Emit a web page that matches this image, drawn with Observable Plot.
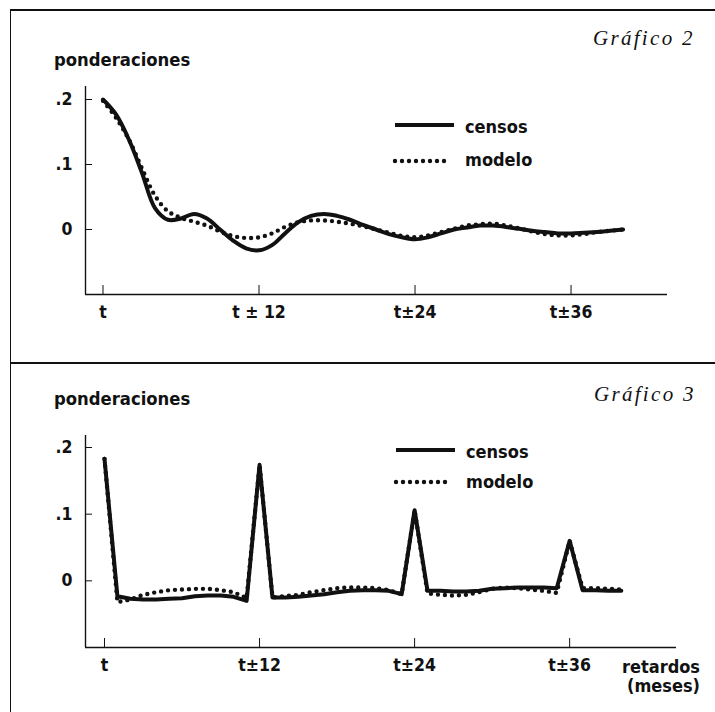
<!DOCTYPE html>
<html><head><meta charset="utf-8">
<script src="https://cdn.jsdelivr.net/npm/d3@7"></script>
<script src="https://cdn.jsdelivr.net/npm/@observablehq/plot@0.6"></script>
<style>
body{margin:0;background:#fff;}
#page{position:relative;width:715px;height:712px;overflow:hidden;background:#fff;color:#111;}
.abs{position:absolute;white-space:nowrap;}
.sans{font-family:"DejaVu Sans Condensed","DejaVu Sans",sans-serif;font-stretch:condensed;font-weight:bold;}
.serif{font-family:"Liberation Serif","Times New Roman",serif;font-style:italic;letter-spacing:2.3px;}
.hline{position:absolute;height:0;border-top:2px solid #111;}
.vline{position:absolute;width:0;border-left:1.5px solid #111;}
</style></head><body><div id="page"></div>
<script>
// ---------- data ----------
const lags = [0,1,2,3,4,5,6,7,8,9,10,11,12,13,14,15,16,17,18,19,20,21,22,23,24,25,26,27,28,29,30,31,32,33,34,35,36,37,38,39,40];

// Gráfico 2
const censos2 = [0.200,0.177,0.138,0.087,0.033,0.015,0.017,0.024,0.017,0.000,-0.017,-0.029,-0.032,-0.024,-0.006,0.011,0.021,0.024,0.021,0.015,0.007,0.000,-0.007,-0.012,-0.015,-0.012,-0.006,0.000,0.003,0.006,0.006,0.004,0.001,-0.002,-0.004,-0.006,-0.006,-0.005,-0.004,-0.002,0.000];
const modelo2 = [0.198,0.172,0.138,0.094,0.052,0.028,0.018,0.012,0.006,-0.003,-0.010,-0.013,-0.012,-0.006,0.004,0.011,0.014,0.014,0.012,0.009,0.005,0.000,-0.005,-0.010,-0.012,-0.009,-0.004,0.001,0.006,0.008,0.009,0.006,0.002,-0.003,-0.007,-0.009,-0.009,-0.007,-0.004,-0.002,0.000];

// Gráfico 3
const censos3 = [0.183,-0.023,-0.027,-0.028,-0.028,-0.027,-0.026,-0.023,-0.022,-0.022,-0.024,-0.030,0.174,-0.025,-0.025,-0.024,-0.022,-0.020,-0.017,-0.015,-0.014,-0.014,-0.015,-0.020,0.106,-0.015,-0.015,-0.016,-0.016,-0.015,-0.012,-0.011,-0.010,-0.010,-0.010,-0.011,0.060,-0.014,-0.014,-0.015,-0.015];
const modelo3 = [0.183,-0.032,-0.028,-0.021,-0.017,-0.014,-0.013,-0.012,-0.012,-0.014,-0.017,-0.026,0.174,-0.025,-0.023,-0.021,-0.017,-0.014,-0.011,-0.010,-0.010,-0.011,-0.014,-0.020,0.106,-0.019,-0.021,-0.022,-0.021,-0.017,-0.012,-0.010,-0.011,-0.013,-0.015,-0.018,0.060,-0.011,-0.011,-0.012,-0.013];

const yTicks = [0, 0.1, 0.2];
const yTickLabels = ["0", ".1", ".2"];
const xTicks = [0, 12, 24, 36];
const xTickLabels2 = ["t", "t ± 12", "t±24", "t±36"];
const xTickLabels3 = ["t", "t±12", "t±24", "t±36"];
const seriesNames = ["censos", "modelo"];

// ---------- helpers ----------
const page = document.getElementById("page");
const INK = "#111";
const FONT = "'DejaVu Sans Condensed', 'DejaVu Sans', sans-serif";

function rows(values) { return lags.map((lag, i) => ({lag, v: values[i]})); }

function panel({censos, modelo, xDomain, yDomain, height, marginTop, marginBottom, marginRight, curve, xLabels}) {
  const xl = new Map(xTicks.map((t, i) => [t, xLabels[i]]));
  const yl = new Map(yTicks.map((t, i) => [t, yTickLabels[i]]));
  return Plot.plot({
    width: 715, height, marginTop, marginBottom, marginLeft: 85, marginRight,
    style: {background: "transparent", fontFamily: FONT, fontStretch: "condensed", fontSize: "17.5px", fontWeight: "bold", color: INK, overflow: "visible"},
    x: {domain: xDomain, label: null},
    y: {domain: yDomain, label: null},
    marks: [
      Plot.ruleX([xDomain[0]], {stroke: INK, strokeWidth: 1.4}),
      Plot.ruleY([yDomain[0]], {stroke: INK, strokeWidth: 1.6}),
      Plot.axisY({ticks: yTicks, tickFormat: d => yl.get(d), tickSize: -7, tickPadding: 20, strokeWidth: 1, label: null}),
      Plot.axisX({ticks: xTicks, tickFormat: d => xl.get(d), tickSize: -9, tickPadding: 20, strokeWidth: 1, label: null}),
      Plot.line(rows(modelo), {x: "lag", y: "v", curve, stroke: INK, strokeWidth: 4.4, strokeDasharray: "0 7", strokeLinecap: "round"}),
      Plot.line(rows(censos), {x: "lag", y: "v", curve, stroke: INK, strokeWidth: 4, strokeLinejoin: "round"})
    ]
  });
}

function place(el, left, top) {
  el.style.position = "absolute";
  el.style.left = left + "px";
  el.style.top = top + "px";
  page.appendChild(el);
  return el;
}

// baseline-based text placement (line-height 1)
function text(txt, x, baseline, size, cls, asc) {
  const d = document.createElement("div");
  d.className = "abs " + cls;
  d.textContent = txt;
  d.style.fontSize = size + "px";
  d.style.lineHeight = "1";
  d.style.left = x + "px";
  d.style.top = (baseline - asc * size) + "px";
  page.appendChild(d);
  return d;
}
const SANS_ASC = 0.846, SERIF_ASC = 0.8375;

function legendLine(x, y, dotted) {
  const svg = d3.create("svg").attr("width", 70).attr("height", 12);
  svg.append("line").attr("x1", 3).attr("x2", dotted ? 59 : 62).attr("y1", 6).attr("y2", 6)
    .attr("stroke", INK).attr("stroke-width", dotted ? 4.4 : 4)
    .attr("stroke-linecap", dotted ? "round" : "butt")
    .attr("stroke-dasharray", dotted ? "0 7" : null);
  place(svg.node(), x - 3, y - 6);
}

// ---------- top panel (Gráfico 2) ----------
const p2 = panel({
  censos: censos2, modelo: modelo2,
  xDomain: [-1.346, 43.42], yDomain: [-0.1, 0.22],
  height: 345, marginTop: 86, marginBottom: 51, marginRight: 48,
  curve: "catmull-rom", xLabels: xTickLabels2
});
place(p2, 0, 0);

// ---------- bottom panel (Gráfico 3) ----------
const p3 = panel({
  censos: censos3, modelo: modelo3,
  xDomain: [-1.47, 44.27], yDomain: [-0.1, 0.218],
  height: 349, marginTop: 72, marginBottom: 65, marginRight: 39,
  curve: "linear", xLabels: xTickLabels3
});
place(p3, 0, 363);

// ---------- frame ----------
function hline(x, y, w) { const d = document.createElement("div"); d.className = "hline"; d.style.width = w + "px"; place(d, x, y); }
function vline(x, y, h) { const d = document.createElement("div"); d.className = "vline"; d.style.height = h + "px"; place(d, x, y); }
hline(10, 9, 705);
hline(10, 362, 705);
vline(10, 9, 703);

// ---------- titles ----------
text("ponderaciones", 54, 66, 18.3, "sans", SANS_ASC);
text("Gráfico 2", 593, 46, 21, "serif", SERIF_ASC);
text("ponderaciones", 54, 405, 18.3, "sans", SANS_ASC);
text("Gráfico 3", 594, 402, 21, "serif", SERIF_ASC);

// ---------- legends ----------
legendLine(395, 125, false);
text(seriesNames[0], 465, 133, 18, "sans", SANS_ASC);
legendLine(395, 161, true);
text(seriesNames[1], 465, 166, 18, "sans", SANS_ASC);

legendLine(396, 450, false);
text(seriesNames[0], 466, 458, 18, "sans", SANS_ASC);
legendLine(396, 482, true);
text(seriesNames[1], 466, 488, 18, "sans", SANS_ASC);

// ---------- x axis title (bottom) ----------
const r = text("retardos", 0, 673, 18, "sans", SANS_ASC);
r.style.left = "auto"; r.style.right = "15px";
const m = text("(meses)", 0, 692, 18, "sans", SANS_ASC);
m.style.left = "auto"; m.style.right = "15px";
</script></body></html>
